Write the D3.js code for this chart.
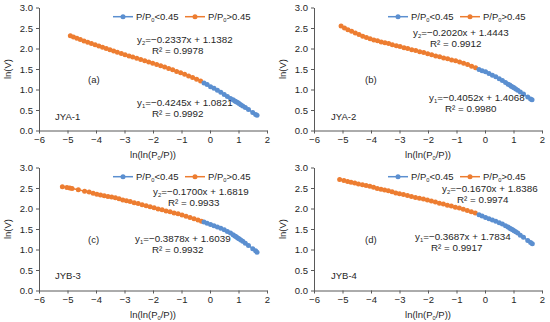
<!DOCTYPE html>
<html><head><meta charset="utf-8">
<script src="https://cdn.jsdelivr.net/npm/d3@7"></script>
<style>body{margin:0;background:#fff} svg{display:block;font-family:"Liberation Sans",Arial,sans-serif}</style>
</head><body><svg id="c" width="550" height="322"></svg>
<script>
// ---------- data ----------
const xTicks = [-6,-5,-4,-3,-2,-1,0,1,2];
const yTicks = [0,0.5,1,1.5,2,2.5,3];
const sampleNames = ["JYA-1","JYA-2","JYB-3","JYB-4"];
const panelLetters = ["(a)","(b)","(c)","(d)"];
const eqHigh = ["=\u22120.2337x + 1.1382","=\u22120.2020x + 1.4443","=\u22120.1700x + 1.6819","=\u22120.1670x + 1.8386"];
const r2High = ["0.9978","0.9912","0.9933","0.9974"];
const eqLow = ["=\u22120.4245x + 1.0821","=\u22120.4052x + 1.4068","=\u22120.3878x + 1.6039","=\u22120.3687x + 1.7834"];
const r2Low = ["0.9992","0.9980","0.9932","0.9917"];

const aOrangeX = [-4.90,-4.79,-4.67,-4.55,-4.42,-4.29,-4.16,-4.03,-3.90,-3.77,-3.64,-3.51,-3.38,-3.25,-3.11,-2.98,-2.84,-2.71,-2.57,-2.43,-2.29,-2.15,-2.01,-1.87,-1.73,-1.59,-1.45,-1.31,-1.17,-1.03,-0.89,-0.75,-0.61,-0.47,-0.33];
const aOrangeY = [2.31,2.28,2.25,2.22,2.18,2.15,2.12,2.09,2.06,2.03,2.00,1.97,1.94,1.91,1.88,1.85,1.82,1.79,1.76,1.73,1.70,1.67,1.64,1.61,1.58,1.55,1.51,1.48,1.44,1.41,1.37,1.33,1.29,1.25,1.21];
const aBlueX = [-0.21,-0.10,0.02,0.14,0.26,0.38,0.50,0.61,0.72,0.81,0.87,0.92,0.97,1.02,1.08,1.15,1.24,1.35,1.50,1.60,1.65];
const aBlueY = [1.16,1.12,1.07,1.03,0.98,0.93,0.88,0.83,0.78,0.75,0.72,0.70,0.68,0.66,0.63,0.60,0.56,0.51,0.44,0.39,0.37];

const bOrangeX = [-5.05,-4.93,-4.81,-4.68,-4.55,-4.42,-4.29,-4.16,-4.03,-3.90,-3.77,-3.64,-3.51,-3.38,-3.25,-3.11,-2.98,-2.84,-2.71,-2.57,-2.43,-2.29,-2.15,-2.01,-1.87,-1.73,-1.59,-1.45,-1.31,-1.17,-1.03,-0.89,-0.75,-0.61,-0.47,-0.33];
const bOrangeY = [2.55,2.50,2.46,2.42,2.38,2.34,2.30,2.27,2.24,2.21,2.19,2.16,2.14,2.12,2.09,2.07,2.05,2.02,2.00,1.97,1.95,1.92,1.90,1.87,1.85,1.82,1.80,1.77,1.75,1.72,1.70,1.67,1.64,1.61,1.57,1.53];
const bBlueX = [-0.21,-0.10,0.02,0.14,0.26,0.38,0.50,0.61,0.72,0.81,0.87,0.92,0.97,1.02,1.08,1.15,1.24,1.35,1.50,1.60,1.65];
const bBlueY = [1.49,1.46,1.43,1.39,1.35,1.31,1.26,1.22,1.17,1.13,1.11,1.08,1.06,1.04,1.01,0.98,0.94,0.89,0.82,0.77,0.75];

const cOrangeX = [-5.18,-5.02,-4.92,-4.84,-4.62,-4.40,-4.24,-4.10,-3.97,-3.84,-3.71,-3.58,-3.45,-3.32,-3.19,-3.06,-2.93,-2.80,-2.66,-2.52,-2.38,-2.24,-2.10,-1.96,-1.82,-1.68,-1.54,-1.40,-1.26,-1.12,-0.98,-0.84,-0.70,-0.56,-0.42,-0.30];
const cOrangeY = [2.53,2.51,2.50,2.49,2.46,2.42,2.40,2.37,2.35,2.33,2.31,2.29,2.28,2.26,2.24,2.21,2.19,2.17,2.14,2.12,2.09,2.07,2.04,2.02,1.99,1.97,1.94,1.92,1.89,1.87,1.84,1.81,1.78,1.75,1.72,1.69];
const cBlueX = [-0.21,-0.10,0.02,0.14,0.26,0.38,0.50,0.61,0.72,0.81,0.87,0.92,0.97,1.02,1.08,1.15,1.24,1.35,1.50,1.60,1.65];
const cBlueY = [1.67,1.64,1.61,1.58,1.55,1.52,1.48,1.44,1.40,1.36,1.33,1.31,1.28,1.26,1.23,1.20,1.15,1.10,1.02,0.97,0.93];

const dOrangeX = [-5.10,-4.95,-4.82,-4.70,-4.57,-4.44,-4.30,-4.17,-4.04,-3.91,-3.78,-3.65,-3.52,-3.39,-3.26,-3.13,-3.00,-2.86,-2.72,-2.58,-2.44,-2.30,-2.16,-2.02,-1.88,-1.74,-1.60,-1.46,-1.32,-1.18,-1.04,-0.90,-0.76,-0.62,-0.48,-0.34];
const dOrangeY = [2.71,2.68,2.66,2.64,2.62,2.60,2.58,2.56,2.54,2.52,2.49,2.47,2.45,2.43,2.41,2.38,2.36,2.34,2.32,2.29,2.27,2.25,2.23,2.21,2.18,2.16,2.13,2.11,2.08,2.06,2.03,2.01,1.98,1.95,1.92,1.89];
const dBlueX = [-0.21,-0.10,0.02,0.14,0.26,0.38,0.50,0.61,0.72,0.81,0.87,0.92,0.97,1.02,1.08,1.15,1.24,1.35,1.50,1.60,1.66];
const dBlueY = [1.85,1.82,1.78,1.75,1.72,1.69,1.65,1.62,1.58,1.55,1.52,1.50,1.48,1.46,1.43,1.40,1.35,1.30,1.22,1.17,1.14];

// ---------- layout ----------
const orangeData = [[aOrangeX,aOrangeY],[bOrangeX,bOrangeY],[cOrangeX,cOrangeY],[dOrangeX,dOrangeY]];
const blueData = [[aBlueX,aBlueY],[bBlueX,bBlueY],[cBlueX,cBlueY],[dBlueX,dBlueY]];
const W = 228, H = 123;
const origins = [[39,7.5],[314,7.5],[39,167.5],[314,167.5]];
const ann = [
  {eq2:[98,32.3], r2b:[113,42.7], eq1:[98,95.3], r1:[113,105.7], letter:[49,72.5], name:[16,109.5]},
  {eq2:[99,25.5], r2b:[116,36.5], eq1:[115,90.5], r1:[131,101.5], letter:[51,72.5], name:[17,109.5]},
  {eq2:[114,24], r2b:[129,34.7], eq1:[96,71.5], r1:[113,82.5], letter:[49,72.5], name:[16,108.5]},
  {eq2:[128,21.5], r2b:[143,32.5], eq1:[101,69.5], r1:[117,80.3], letter:[51,72.5], name:[17,108.5]}
];
const BLUE = "#5b8fd0", ORANGE = "#ed7d31", AXIS = "#595959", TXT = "#262626";

const svg = d3.select("#c");
const x = d3.scaleLinear().domain([-6,2]).range([0,W]);
const y = d3.scaleLinear().domain([0,3]).range([H,0]);
const line = d3.line().x(d=>x(d[0])).y(d=>y(d[1]));

function rich(sel, parts, fs){
  parts.forEach(p=>{
    const t = sel.append("tspan").text(p[0]);
    if(p[1]==="sub"){ t.attr("font-size", fs*0.6).attr("dy", fs*0.2); }
    else if(p[1]==="after"){ t.attr("dy", -fs*0.2); }
  });
}

origins.forEach((o,i)=>{
  const g = svg.append("g").attr("transform",`translate(${o[0]},${o[1]})`);
  const gx = g.append("g").attr("transform",`translate(0,${H})`)
    .call(d3.axisBottom(x).tickValues(xTicks).tickSize(3).tickSizeOuter(0).tickFormat(d3.format("d")));
  const gy = g.append("g")
    .call(d3.axisLeft(y).tickValues(yTicks).tickSize(3).tickSizeOuter(0).tickFormat(d3.format(".1f")));
  [gx,gy].forEach(a=>{
    a.select(".domain").attr("stroke",AXIS);
    a.selectAll(".tick line").attr("stroke",AXIS);
    a.selectAll(".tick text").attr("fill",TXT).attr("font-size",9.5).attr("font-family","Liberation Sans, Arial, sans-serif");
  });
  // axis titles
  const xt = g.append("text").attr("x",W/2).attr("y",H+27.5).attr("text-anchor","middle")
    .attr("font-size",9.5).attr("fill",TXT);
  rich(xt, [["ln(ln(P"],["0","sub"],["/P))","after"]], 9.5);
  g.append("text").attr("transform",`translate(-28,${H/2}) rotate(-90)`).attr("text-anchor","middle")
    .attr("font-size",9.5).attr("fill",TXT).text("ln(V)");

  // series
  const od = orangeData[i][0].map((v,k)=>[v, orangeData[i][1][k]]);
  const bd = blueData[i][0].map((v,k)=>[v, blueData[i][1][k]]);
  [[od,ORANGE],[bd,BLUE]].forEach(([d,c])=>{
    g.append("path").datum(d).attr("d",line).attr("fill","none").attr("stroke",c).attr("stroke-width",1.5);
    g.selectAll(null).data(d).enter().append("circle")
      .attr("cx",p=>x(p[0])).attr("cy",p=>y(p[1])).attr("r",2.5).attr("fill",c);
  });

  // legend
  const ly = 9.2;
  [[74,BLUE,"<0.45"],[146,ORANGE,">0.45"]].forEach(([lx,c,s])=>{
    g.append("line").attr("x1",lx).attr("x2",lx+20).attr("y1",ly).attr("y2",ly).attr("stroke",c).attr("stroke-width",1.5);
    g.append("circle").attr("cx",lx+10).attr("cy",ly).attr("r",2.5).attr("fill",c);
    const t = g.append("text").attr("x",lx+23).attr("y",ly+3.4).attr("font-size",9.5).attr("fill",TXT);
    rich(t, [["P/P"],["0","sub"],[s,"after"]], 9.5);
  });

  // annotations
  const A = ann[i], fs = 9.8;
  const e2 = g.append("text").attr("x",A.eq2[0]).attr("y",A.eq2[1]+3.4).attr("font-size",fs).attr("fill",TXT);
  rich(e2, [["y"],["2","sub"],[eqHigh[i],"after"]], fs);
  g.append("text").attr("x",A.r2b[0]).attr("y",A.r2b[1]+3.4).attr("font-size",fs).attr("fill",TXT).text("R\u00b2 = "+r2High[i]);
  const e1 = g.append("text").attr("x",A.eq1[0]).attr("y",A.eq1[1]+3.4).attr("font-size",fs).attr("fill",TXT);
  rich(e1, [["y"],["1","sub"],[eqLow[i],"after"]], fs);
  g.append("text").attr("x",A.r1[0]).attr("y",A.r1[1]+3.4).attr("font-size",fs).attr("fill",TXT).text("R\u00b2 = "+r2Low[i]);
  g.append("text").attr("x",A.letter[0]).attr("y",A.letter[1]+3.4).attr("font-size",9.5).attr("fill",TXT).text(panelLetters[i]);
  g.append("text").attr("x",A.name[0]).attr("y",A.name[1]+3.4).attr("font-size",9.5).attr("fill",TXT).text(sampleNames[i]);
});
</script></body></html>
